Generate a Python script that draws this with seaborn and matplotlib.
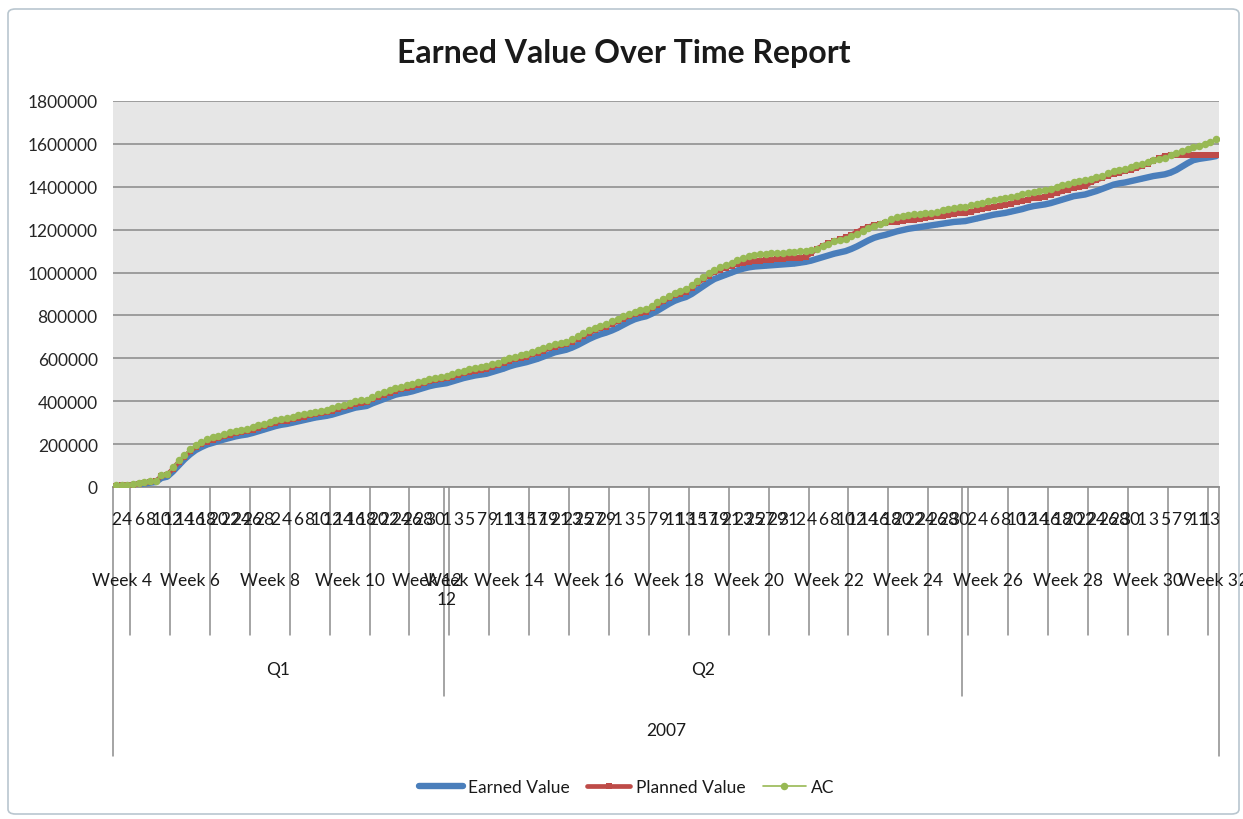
import numpy as np
import pandas as pd
import seaborn as sns
import matplotlib.pyplot as plt
from matplotlib.patches import FancyBboxPatch

# daily cumulative values in thousands, Fri 2 Feb 2007 .. Tue 14 Aug 2007 (one row per week)
earned_value = [
    4, 5, 6,
    9, 12, 16, 20, 23, 42, 48,
    72, 100, 128, 152, 172, 186, 198,
    206, 214, 222, 229, 236, 241, 245,
    252, 260, 268, 276, 284, 290, 294,
    300, 306, 312, 318, 324, 328, 332,
    338, 346, 354, 362, 370, 374, 378,
    390, 400, 410, 420, 430, 436, 440,
    446, 454, 462, 470, 476, 480, 484,
    492, 500, 508, 514, 520, 524, 528,
    536, 544, 552, 562, 570, 576, 582,
    590, 598, 608, 618, 628, 634, 640,
    650, 662, 676, 690, 702, 712, 720,
    730, 742, 756, 770, 782, 790, 796,
    808, 822, 838, 854, 868, 878, 886,
    900, 918, 936, 954, 970, 980, 990,
    1000, 1010, 1018, 1024, 1028, 1030, 1032,
    1034, 1036, 1038, 1040, 1042, 1046, 1050,
    1056, 1064, 1072, 1080, 1088, 1094, 1100,
    1110, 1122, 1136, 1150, 1162, 1170, 1176,
    1184, 1192, 1198, 1204, 1208, 1212, 1216,
    1220, 1224, 1228, 1232, 1236, 1238, 1240,
    1246, 1252, 1258, 1264, 1270, 1274, 1278,
    1284, 1290, 1296, 1304, 1310, 1314, 1318,
    1324, 1332, 1340, 1348, 1356, 1360, 1364,
    1372, 1380, 1390, 1400, 1410, 1416, 1420,
    1426, 1432, 1438, 1444, 1450, 1454, 1458,
    1466, 1478, 1494, 1510, 1524, 1530, 1534,
    1538, 1543,
]
planned_value = [
    6, 7, 8,
    11, 15, 19, 24, 27, 50, 56,
    85, 116, 142, 166, 186, 200, 212,
    220, 228, 236, 243, 250, 256, 260,
    268, 276, 284, 292, 300, 306, 310,
    316, 322, 328, 334, 340, 344, 348,
    356, 364, 372, 380, 388, 392, 396,
    410, 420, 430, 440, 450, 456, 462,
    468, 476, 484, 492, 498, 502, 506,
    514, 522, 530, 536, 542, 546, 550,
    560, 568, 578, 588, 596, 602, 608,
    618, 626, 636, 646, 654, 660, 666,
    678, 690, 704, 718, 730, 740, 748,
    760, 772, 784, 796, 806, 812, 818,
    834, 850, 866, 880, 894, 902, 910,
    930, 950, 968, 986, 1002, 1012, 1022,
    1032, 1040, 1046, 1050, 1053, 1055, 1057,
    1060, 1062, 1064, 1066, 1068, 1070, 1072,
    1090, 1112, 1126, 1136, 1146, 1156, 1164,
    1176, 1190, 1204, 1214, 1222, 1226, 1230,
    1234, 1237, 1240, 1243, 1246, 1250, 1254,
    1258, 1262, 1266, 1270, 1274, 1276, 1278,
    1284, 1290, 1296, 1302, 1308, 1312, 1316,
    1322, 1328, 1334, 1340, 1346, 1350, 1354,
    1362, 1370, 1378, 1386, 1394, 1398, 1402,
    1420, 1430, 1440, 1450, 1460, 1466, 1472,
    1478, 1486, 1496, 1508, 1522, 1534, 1544,
    1550, 1550, 1550, 1550, 1550, 1550, 1550,
    1550, 1550,
]
actual_cost = [
    8, 9, 10,
    13, 17, 21, 26, 30, 55, 60,
    93, 125, 150, 175, 195, 210, 224,
    232, 240, 248, 255, 262, 268, 272,
    280, 288, 296, 304, 312, 318, 322,
    328, 334, 340, 346, 352, 356, 360,
    368, 376, 384, 392, 400, 404, 408,
    422, 432, 442, 452, 462, 468, 474,
    480, 488, 496, 504, 510, 514, 518,
    526, 534, 542, 548, 554, 558, 562,
    572, 580, 590, 600, 608, 614, 620,
    630, 638, 648, 658, 666, 672, 678,
    690, 702, 716, 730, 742, 752, 760,
    772, 784, 796, 808, 818, 824, 830,
    846, 862, 878, 892, 906, 914, 922,
    942, 962, 980, 998, 1014, 1024, 1034,
    1046, 1058, 1068, 1076, 1082, 1085, 1087,
    1089, 1091, 1093, 1095, 1097, 1099, 1101,
    1106, 1112, 1122, 1134, 1146, 1152, 1158,
    1170, 1182, 1194, 1206, 1218, 1226, 1234,
    1248, 1258, 1264, 1268, 1272, 1274, 1276,
    1280, 1284, 1290, 1296, 1302, 1306, 1308,
    1314, 1320, 1326, 1332, 1338, 1342, 1346,
    1352, 1358, 1364, 1370, 1376, 1380, 1384,
    1390, 1398, 1406, 1414, 1422, 1426, 1430,
    1436, 1444, 1452, 1462, 1472, 1478, 1484,
    1492, 1500, 1508, 1516, 1524, 1530, 1536,
    1546, 1556, 1566, 1576, 1586, 1592, 1598,
    1610, 1622,
]
start_date = "2007-02-02"
first_week_number = 4
quarter_labels = ["Q1", "Q2"]
year_label = "2007"
y_ticks = list(range(0, 1800001, 200000))

W, H = 1243, 820

def px_x(p):
    return p / W

def px_y(p):
    return 1 - p / H

def ax_y(p):
    # pixel row below the plot area -> axes fraction
    return (488 - p) / 386

sns.set_style("white")
plt.rcParams['font.family'] = ['Lato', 'DejaVu Sans']
plt.rcParams['text.color'] = '#1a1a1a'

n = len(earned_value)
days = np.arange(n)
dates = pd.date_range(start_date, periods=n, freq="D")
df = pd.DataFrame({
    "day": days,
    "Earned Value": np.array(earned_value) * 1000,
    "Planned Value": np.array(planned_value) * 1000,
    "AC": np.array(actual_cost) * 1000,
})

# week number for each day (weeks start on Monday), quarter from the date
week = first_week_number + ((days + dates[0].dayofweek) // 7)
quarter = dates.quarter.values

fig = plt.figure(figsize=(W / 100, H / 100), dpi=100)
fig.patch.set_facecolor("white")
frame = FancyBboxPatch((px_x(8), px_y(815)), px_x(1231), 805 / H,
                       boxstyle="round,pad=0,rounding_size=0.006",
                       transform=fig.transFigure, facecolor="none",
                       edgecolor="#B9C6CF", lw=1.2)
fig.patches.append(frame)

ax = fig.add_axes([px_x(113), px_y(488), px_x(1106), 386 / H])
ax.set_facecolor("#E6E6E6")

sns.lineplot(data=df, x="day", y="Earned Value", ax=ax, color="#4A7EBB",
             lw=4.6, marker="v", markersize=3, markeredgewidth=0,
             label="Earned Value", zorder=3)
sns.lineplot(data=df, x="day", y="Planned Value", ax=ax, color="#BE4B48",
             lw=3.4, marker="s", markersize=4.6, markeredgewidth=0,
             label="Planned Value", zorder=4)
sns.lineplot(data=df, x="day", y="AC", ax=ax, color="#98B954",
             lw=1.2, marker="o", markersize=5.4, markeredgewidth=0,
             label="AC", zorder=5)

ax.set_xlim(-0.5, n - 0.5)
ax.set_ylim(0, 1800000)
ax.set_yticks(y_ticks)
ax.set_yticklabels([str(v) for v in y_ticks], fontsize=12.5)
ax.set_xticks([])
ax.set_xlabel("")
ax.set_ylabel("")
ax.tick_params(axis="y", length=0, pad=11)
ax.yaxis.grid(True, color="#979797", lw=1.3)
ax.set_axisbelow(True)
for side in ["top", "right", "left"]:
    ax.spines[side].set_visible(False)
ax.spines["bottom"].set_color("#8C8C8C")
ax.spines["bottom"].set_linewidth(1.3)

trans = ax.get_xaxis_transform()
line_kw = dict(transform=trans, clip_on=False, color="#8C8C8C", lw=1.1)

# level 1: day of month, every other label
for d in range(0, n, 2):
    ax.text(d, ax_y(520), str(dates[d].day), transform=trans,
            ha="center", va="center", fontsize=12.5)

# level 2: weeks split by quarter
group_start = [0]
for d in range(1, n):
    if week[d] != week[d - 1] or quarter[d] != quarter[d - 1]:
        group_start.append(d)
group_end = group_start[1:] + [n]
for s, e in zip(group_start, group_end):
    wk = week[s]
    if wk % 2 == 0:
        txt = f"Week {wk}" if e - s > 1 else f"Week\n{wk}"
        ax.text((s + e - 1) / 2, ax_y(573), txt, transform=trans,
                ha="center", va="top", fontsize=12.5, linespacing=1.25)
    if s > 0:
        bottom = ax_y(697) if quarter[s] != quarter[s - 1] else ax_y(636)
        ax.plot([s - 0.5, s - 0.5], [0, bottom], **line_kw)

# level 3: quarters
q_start = [0] + [d for d in range(1, n) if quarter[d] != quarter[d - 1]]
q_end = q_start[1:] + [n]
for lab, s, e in zip(quarter_labels, q_start, q_end):
    ax.text((s + e - 1) / 2, ax_y(670), lab, transform=trans,
            ha="center", va="center", fontsize=12.5)

# level 4: year
ax.text((n - 1) / 2, ax_y(731), year_label, transform=trans,
        ha="center", va="center", fontsize=12.5)
for xe in [-0.5, n - 0.5]:
    ax.plot([xe, xe], [0, ax_y(757)], **line_kw)

fig.text(px_x(624), px_y(54), "Earned Value Over Time Report",
         ha="center", va="center", fontsize=23, fontweight="bold")

handles, labels = ax.get_legend_handles_labels()
ax.get_legend().remove()
fig.legend(handles, labels, loc="center", bbox_to_anchor=(px_x(627), px_y(788)),
           ncol=3, frameon=False, fontsize=12.5, handlelength=2.5,
           columnspacing=1.0, handletextpad=0.3)

plt.savefig("out.png", dpi=100)
